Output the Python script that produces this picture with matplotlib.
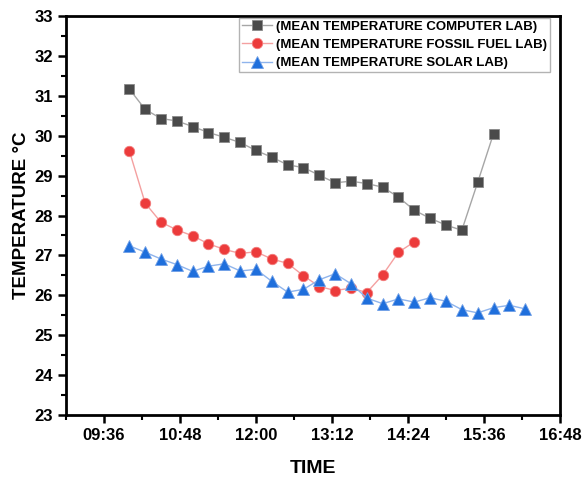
import numpy as np
import pandas as pd
import matplotlib
matplotlib.use("Agg")
import matplotlib.pyplot as plt
import matplotlib.dates as mdates

plt.rcParams['font.family'] = ['Liberation Sans', 'DejaVu Sans']
plt.rcParams['font.weight'] = 'bold'

# readings every 15 min
computer_times = ["10:00", "10:15", "10:30", "10:45", "11:00", "11:15", "11:30", "11:45",
                  "12:00", "12:15", "12:30", "12:45", "13:00", "13:15", "13:30", "13:45",
                  "14:00", "14:15", "14:30", "14:45", "15:00", "15:15", "15:30", "15:45"]
computer_temp = [31.17, 30.66, 30.43, 30.37, 30.23, 30.08, 29.96, 29.83,
                 29.63, 29.46, 29.27, 29.20, 29.01, 28.82, 28.86, 28.80,
                 28.71, 28.46, 28.13, 27.93, 27.76, 27.63, 28.83, 30.05]

fossil_times = computer_times[:19]
fossil_temp = [29.62, 28.31, 27.83, 27.64, 27.49, 27.29, 27.15, 27.05,
               27.09, 26.91, 26.80, 26.49, 26.22, 26.12, 26.18, 26.07,
               26.51, 27.08, 27.34]

solar_times = computer_times + ["16:00", "16:15"]
solar_temp = [27.24, 27.08, 26.91, 26.77, 26.60, 26.73, 26.79, 26.61,
              26.65, 26.35, 26.08, 26.15, 26.39, 26.54, 26.29, 25.93,
              25.79, 25.91, 25.83, 25.94, 25.85, 25.64, 25.56, 25.69,
              25.75, 25.66]

x_ticks = ["09:36", "10:48", "12:00", "13:12", "14:24", "15:36", "16:48"]
x_minor = ["09:00", "10:12", "11:24", "12:36", "13:48", "15:00", "16:12"]


def to_num(times):
    return mdates.date2num(pd.to_datetime(["2020-01-01 " + t for t in times]))


fig = plt.figure(figsize=(5.82, 4.79), dpi=100)
ax = fig.add_axes([0.1134, 0.1336, 0.8488, 0.833])

ax.plot(to_num(computer_times), computer_temp, color="#a6a6a6", lw=1.0,
        marker="s", ms=6.5, mfc="#4a4a4a", mec="#8a8a8a", mew=0.6,
        label="(MEAN TEMPERATURE COMPUTER LAB)")
ax.plot(to_num(fossil_times), fossil_temp, color="#f4a0a0", lw=1.0,
        marker="o", ms=7.5, mfc="#ec3b3b", mec="#f27a7a", mew=0.6,
        label="(MEAN TEMPERATURE FOSSIL FUEL LAB)")
ax.plot(to_num(solar_times), solar_temp, color="#8fb4ec", lw=1.0,
        marker="^", ms=8, mfc="#1f6fdc", mec="#6f9fe6", mew=0.6,
        label="(MEAN TEMPERATURE SOLAR LAB)")

ax.set_xlim(to_num(["09:00"])[0], to_num(["16:48"])[0])
ax.set_xticks(to_num(x_ticks))
ax.set_xticklabels(x_ticks)
ax.set_xticks(to_num(x_minor), minor=True)

ax.set_ylim(23, 33)
ax.set_yticks(np.arange(23, 34, 1))
ax.set_yticks(np.arange(23.5, 33, 1), minor=True)

for s in ax.spines.values():
    s.set_linewidth(2)
ax.tick_params(which="major", length=6, width=1.8, labelsize=12, direction="out")
ax.tick_params(which="minor", length=3.5, width=1.5, direction="out")
for lab in ax.get_xticklabels() + ax.get_yticklabels():
    lab.set_fontweight("bold")

ax.set_xlabel("TIME", fontsize=14, fontweight="bold", labelpad=12)
ax.set_ylabel("TEMPERATURE °C", fontsize=13.5, fontweight="bold", labelpad=3)

leg = ax.legend(loc="upper left", bbox_to_anchor=(239 / 582, 1 - 18 / 479),
                bbox_transform=fig.transFigure, borderaxespad=0,
                fontsize=9.5, frameon=True, fancybox=False,
                edgecolor="#a0a0a0", borderpad=0.2, handlelength=2.3,
                handletextpad=0.3, labelspacing=0.45)
leg.get_frame().set_linewidth(1)
for t in leg.get_texts():
    t.set_fontweight("bold")

fig.savefig("out.png", dpi=100)
